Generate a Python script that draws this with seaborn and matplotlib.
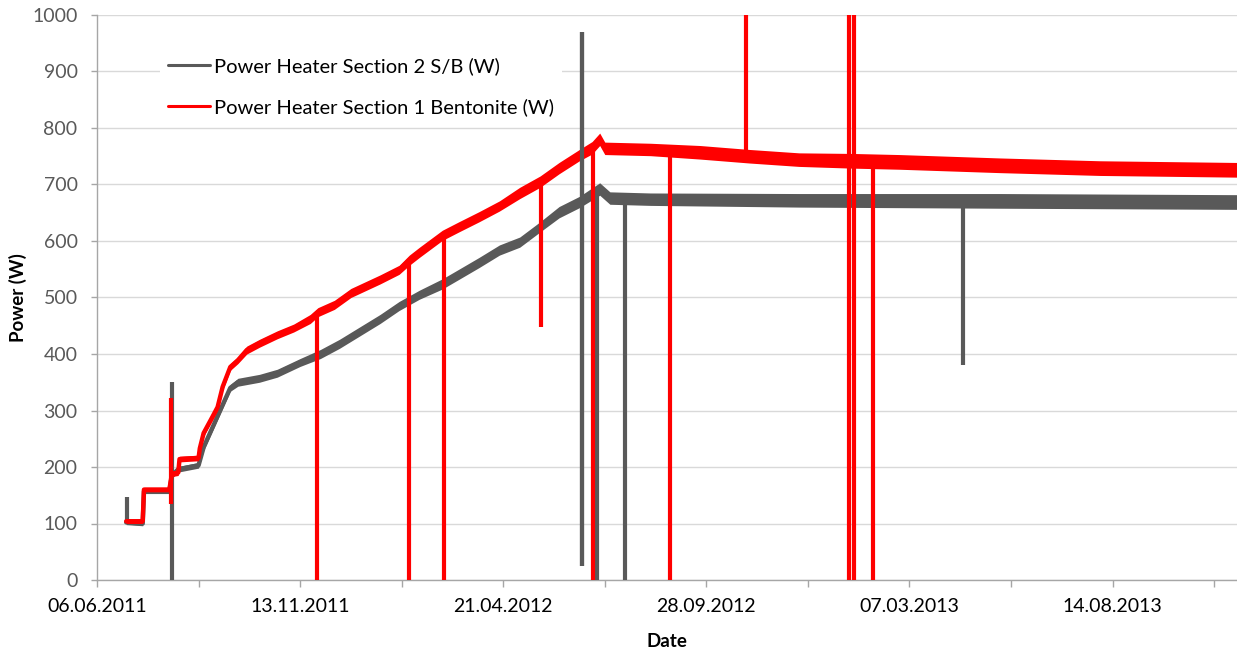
import numpy as np
import pandas as pd
import matplotlib
matplotlib.use("Agg")
import matplotlib.pyplot as plt
from matplotlib.lines import Line2D
import seaborn as sns

# ---------------- data ----------------
series_names = ["Power Heater Section 2 S/B (W)", "Power Heater Section 1 Bentonite (W)"]

gray_dates = ["2011-06-29", "2011-07-12", "2011-07-13", "2011-08-02", "2011-08-04", "2011-08-09",
              "2011-08-25", "2011-08-29", "2011-09-05", "2011-09-13", "2011-09-19", "2011-09-25",
              "2011-10-12", "2011-10-26", "2011-11-13", "2011-11-29", "2011-12-14", "2011-12-30",
              "2012-01-15", "2012-01-30", "2012-02-15", "2012-03-04", "2012-03-17", "2012-04-02",
              "2012-04-18", "2012-05-04", "2012-05-20", "2012-06-04", "2012-06-20", "2012-07-06",
              "2012-07-14", "2012-08-15", "2012-12-10", "2013-05-17", "2013-11-20"]
gray_vals = [102, 100, 157, 157, 185, 196,
             203, 235, 270, 310, 340, 350,
             357, 366, 385, 400, 418, 440,
             462, 485, 505, 524, 541, 562,
             584, 598, 625, 651, 669, 692,
             676, 674, 672, 671, 669]
gray_spread = [4, 4, 4, 4, 5, 5,
               5, 6, 6, 6, 6, 7,
               7, 7, 7, 8, 8, 8,
               8, 8, 8, 9, 9, 9,
               9, 9, 9, 10, 10, 11,
               11, 11, 12, 13, 13]

red_dates = ["2011-06-29", "2011-07-12", "2011-07-13", "2011-08-02", "2011-08-04", "2011-08-09",
             "2011-08-10", "2011-08-25", "2011-08-26", "2011-08-29", "2011-09-05", "2011-09-09",
             "2011-09-13", "2011-09-19", "2011-09-25", "2011-10-02", "2011-10-12", "2011-10-26",
             "2011-11-08", "2011-11-21", "2011-11-27", "2011-12-10", "2011-12-23", "2012-01-15",
             "2012-01-30", "2012-02-07", "2012-02-15", "2012-03-04", "2012-03-17", "2012-04-02",
             "2012-04-18", "2012-05-04", "2012-05-20", "2012-06-04", "2012-06-20", "2012-06-30",
             "2012-07-06", "2012-07-10", "2012-08-15", "2012-09-23", "2012-11-01", "2012-12-10",
             "2013-01-20", "2013-02-27", "2013-05-17", "2013-08-04", "2013-11-20"]
red_vals = [104, 104, 160, 160, 188, 190,
            214, 216, 233, 260, 289, 306,
            342, 377, 389, 407, 419, 434,
            446, 462, 474, 487, 508, 532,
            549, 566, 580, 610, 625, 643,
            662, 685, 705, 729, 752, 765,
            780, 764, 762, 757, 750, 744,
            742, 740, 734, 729, 726]
red_spread = [4, 4, 4, 4, 5, 5,
              5, 5, 5, 6, 6, 6,
              6, 6, 6, 7, 7, 7,
              7, 8, 8, 8, 8, 8,
              8, 9, 9, 9, 9, 9,
              9, 10, 10, 10, 10, 11,
              11, 11, 11, 12, 12, 12,
              13, 13, 13, 13, 13]

# short drop-outs / spikes: date, low value, high value
red_spike_dates = ["2011-08-03", "2011-11-26", "2012-02-07", "2012-03-05", "2012-05-21", "2012-07-01",
                   "2012-08-30", "2012-10-29", "2013-01-18", "2013-01-22", "2013-02-06"]
red_spike_low = [135, 0, 0, 0, 448, 0, 0, 752, 0, 0, 0]
red_spike_high = [322, 470, 566, 610, 705, 768, 760, 1000, 1000, 1000, 742]

gray_spike_dates = ["2011-06-30", "2011-08-04", "2012-06-22", "2012-07-04", "2012-07-26", "2013-04-18"]
gray_spike_low = [102, 0, 25, 0, 0, 380]
gray_spike_high = [147, 350, 970, 690, 675, 671]

x_tick_labels = ["06.06.2011", "13.11.2011", "21.04.2012", "28.09.2012", "07.03.2013", "14.08.2013"]
x_end = "2013-11-20"
y_ticks = [0, 100, 200, 300, 400, 500, 600, 700, 800, 900, 1000]

# ---------------- style ----------------
sns.set_theme(style="white")
plt.rcParams["font.family"] = ["Lato", "DejaVu Sans"]

GRAY = "#595959"
RED = "#FF0000"
TXT = "#595959"

fig = plt.figure(figsize=(12.37, 6.53), dpi=100)
ax = fig.add_axes([97 / 1237, 73 / 653, 1140 / 1237, 565 / 653])

df = pd.concat([
    pd.DataFrame({"date": pd.to_datetime(gray_dates), "power": gray_vals, "series": series_names[0]}),
    pd.DataFrame({"date": pd.to_datetime(red_dates), "power": red_vals, "series": series_names[1]}),
], ignore_index=True)

# noise bands
ax.fill_between(pd.to_datetime(gray_dates), np.array(gray_vals) - np.array(gray_spread),
                np.array(gray_vals) + np.array(gray_spread), color=GRAY, lw=0, zorder=2)
ax.fill_between(pd.to_datetime(red_dates), np.array(red_vals) - np.array(red_spread),
                np.array(red_vals) + np.array(red_spread), color=RED, lw=0, zorder=4)

sns.lineplot(data=df, x="date", y="power", hue="series", palette=[GRAY, RED],
             estimator=None, sort=False, lw=3.2, ax=ax, legend=False)
ax.lines[0].set_zorder(2.5)
ax.lines[1].set_zorder(4.5)

# spikes
ax.vlines(pd.to_datetime(gray_spike_dates), gray_spike_low, gray_spike_high, color=GRAY, lw=3.0, zorder=3)
ax.vlines(pd.to_datetime(red_spike_dates), red_spike_low, red_spike_high, color=RED, lw=3.0, zorder=5)
# the tall grey spike is drawn over the red band
ax.vlines(pd.to_datetime(gray_spike_dates[2:3]), gray_spike_low[2:3], gray_spike_high[2:3],
          color=GRAY, lw=3.0, zorder=6)

# axes
tick_dates = pd.to_datetime(x_tick_labels, format="%d.%m.%Y")
ax.set_xlim(tick_dates[0], pd.to_datetime(x_end))
ax.set_ylim(0, 1000)
ax.set_xticks(tick_dates)
ax.set_xticklabels(x_tick_labels)
ax.set_xticks(tick_dates + pd.Timedelta(days=80), minor=True)
ax.set_yticks(y_ticks)
ax.set_yticklabels([str(v) for v in y_ticks])

ax.tick_params(axis="x", which="both", direction="out", length=5, width=1, color="#A6A6A6",
               labelsize=14, labelcolor="#000000", pad=8, bottom=True)
ax.tick_params(axis="y", direction="out", length=4, width=1, color="#A6A6A6",
               labelsize=14, labelcolor=TXT, pad=10, left=True)

ax.grid(axis="y", color="#D9D9D9", lw=1)
ax.grid(axis="x", visible=False)
ax.set_axisbelow(True)
for s in ["top", "right"]:
    ax.spines[s].set_visible(False)
for s in ["left", "bottom"]:
    ax.spines[s].set_color("#A6A6A6")
    ax.spines[s].set_linewidth(1)

ax.set_xlabel("Date", fontsize=13.5, fontweight="bold", color="#000000")
ax.set_ylabel("Power (W)", fontsize=13.5, fontweight="bold", color="#000000")
ax.xaxis.set_label_coords(0.5, -0.094)
ax.yaxis.set_label_coords(-0.061, 0.5)

handles = [Line2D([], [], color=GRAY, lw=2.2), Line2D([], [], color=RED, lw=2.2)]
leg = ax.legend(handles, series_names, loc="upper left", bbox_to_anchor=(0.055, 0.94),
                frameon=True, fancybox=False, framealpha=1, facecolor="white", edgecolor="none",
                fontsize=14.5, handlelength=2.1, handletextpad=0.2, labelspacing=1.15,
                borderpad=0.4, borderaxespad=0)
leg.set_zorder(10)
for t in leg.get_texts():
    t.set_color("#000000")

fig.savefig("out.png", dpi=100)
